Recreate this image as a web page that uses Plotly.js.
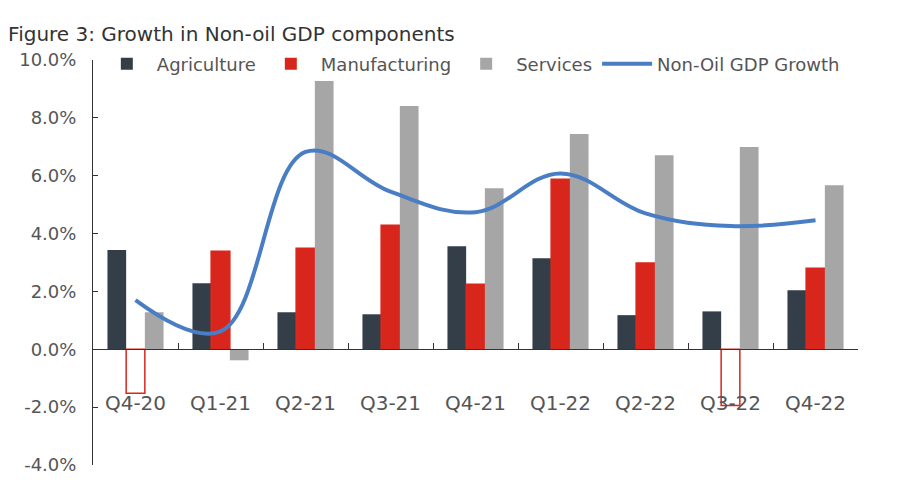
<!DOCTYPE html>
<html>
<head>
<meta charset="utf-8">
<script src="https://cdn.plot.ly/plotly-3.0.1.min.js"></script>
<style>
  html, body { margin: 0; padding: 0; background: #fff; }
  #chart { width: 900px; height: 480px; }
</style>
</head>
<body>
<div id="chart"></div>
<script>
const quarters = ["Q4-20", "Q1-21", "Q2-21", "Q3-21", "Q4-21", "Q1-22", "Q2-22", "Q3-22", "Q4-22"];
const agriculture = [3.43, 2.28, 1.28, 1.21, 3.56, 3.15, 1.18, 1.31, 2.04];
const manufacturing = [-1.52, 3.39, 3.49, 4.29, 2.25, 5.88, 2.98, -1.94, 2.80];
const services = [1.28, -0.38, 9.27, 8.41, 5.57, 7.44, 6.71, 6.99, 5.67];
const nonOilGrowth = [1.70, 0.62, 6.82, 5.45, 4.74, 6.08, 4.70, 4.26, 4.46];

const yTicks = [-4, -2, 0, 2, 4, 6, 8, 10];

const red = "#d9261c";
const fontFamily = "'DejaVu Sans', 'Open Sans', sans-serif";

// negative manufacturing bars are drawn hollow in the original
const manufacturingFill = manufacturing.map((v) => (v < 0 ? "#ffffff" : red));

const agricultureBars = {
  x: quarters,
  y: agriculture,
  name: "Agriculture",
  type: "bar",
  marker: { color: "#333e48" },
};

// legend swatch only (the real trace starts with a hollow bar), kept on a hidden axis
const manufacturingKey = {
  x: quarters,
  y: quarters.map(() => null),
  name: "Manufacturing",
  type: "bar",
  xaxis: "x2",
  yaxis: "y2",
  marker: { color: red },
};

const manufacturingBars = {
  x: quarters,
  y: manufacturing,
  name: "Manufacturing",
  type: "bar",
  showlegend: false,
  marker: { color: manufacturingFill, line: { color: red, width: 1.5 } },
};

const servicesBars = {
  x: quarters,
  y: services,
  name: "Services",
  type: "bar",
  marker: { color: "#a6a6a6" },
};

const growthLine = {
  x: quarters,
  y: nonOilGrowth,
  name: "Non-Oil GDP Growth",
  type: "scatter",
  mode: "lines",
  line: { shape: "spline", smoothing: 1.1, color: "#4a7ec4", width: 4 },
};

const chartLayout = {
  width: 900,
  height: 480,
  margin: { l: 93, r: 42, t: 60, b: 15 },
  paper_bgcolor: "#ffffff",
  plot_bgcolor: "#ffffff",
  font: { family: fontFamily, color: "#555555", size: 17 },
  title: {
    text: "Figure 3: Growth in Non-oil GDP components",
    font: { family: fontFamily, size: 20, color: "#333333" },
    x: 0.009,
    xanchor: "left",
    xref: "container",
    y: 0.93,
    yanchor: "middle",
    yref: "container",
  },
  barmode: "group",
  bargap: 0.34,
  bargroupgap: 0,
  showlegend: true,
  legend: {
    orientation: "h",
    x: 0.005,
    xanchor: "left",
    y: 0.99,
    yanchor: "middle",
    font: { size: 18, color: "#555555" },
    bgcolor: "rgba(0,0,0,0)",
    itemwidth: 50,
    traceorder: "normal",
  },
  xaxis: {
    type: "category",
    range: [-0.5, 8.5],
    anchor: "free",
    position: 4 / 14,
    showline: true,
    linecolor: "#333333",
    linewidth: 1,
    ticks: "inside",
    tickson: "boundaries",
    ticklen: 6,
    tickcolor: "#333333",
    showgrid: false,
    zeroline: false,
    tickfont: { size: 20, color: "#555555" },
    ticklabelstandoff: 36,
    fixedrange: true,
  },
  xaxis2: { type: "category", overlaying: "x", visible: false, range: [-0.5, 8.5] },
  yaxis2: { overlaying: "y", visible: false, range: [-4, 10] },
  yaxis: {
    range: [-4, 10],
    tickvals: yTicks,
    ticktext: yTicks.map((v) => v.toFixed(1) + "%"),
    showline: true,
    linecolor: "#333333",
    linewidth: 1,
    ticks: "inside",
    ticklen: 5,
    tickcolor: "#333333",
    showgrid: false,
    zeroline: false,
    tickfont: { size: 18, color: "#555555" },
    ticklabelstandoff: 12,
    fixedrange: true,
  },
};

const chartConfig = { displayModeBar: false, staticPlot: true };

Plotly.newPlot(
  "chart",
  [agricultureBars, manufacturingKey, manufacturingBars, servicesBars, growthLine],
  chartLayout,
  chartConfig
);
</script>
</body>
</html>
